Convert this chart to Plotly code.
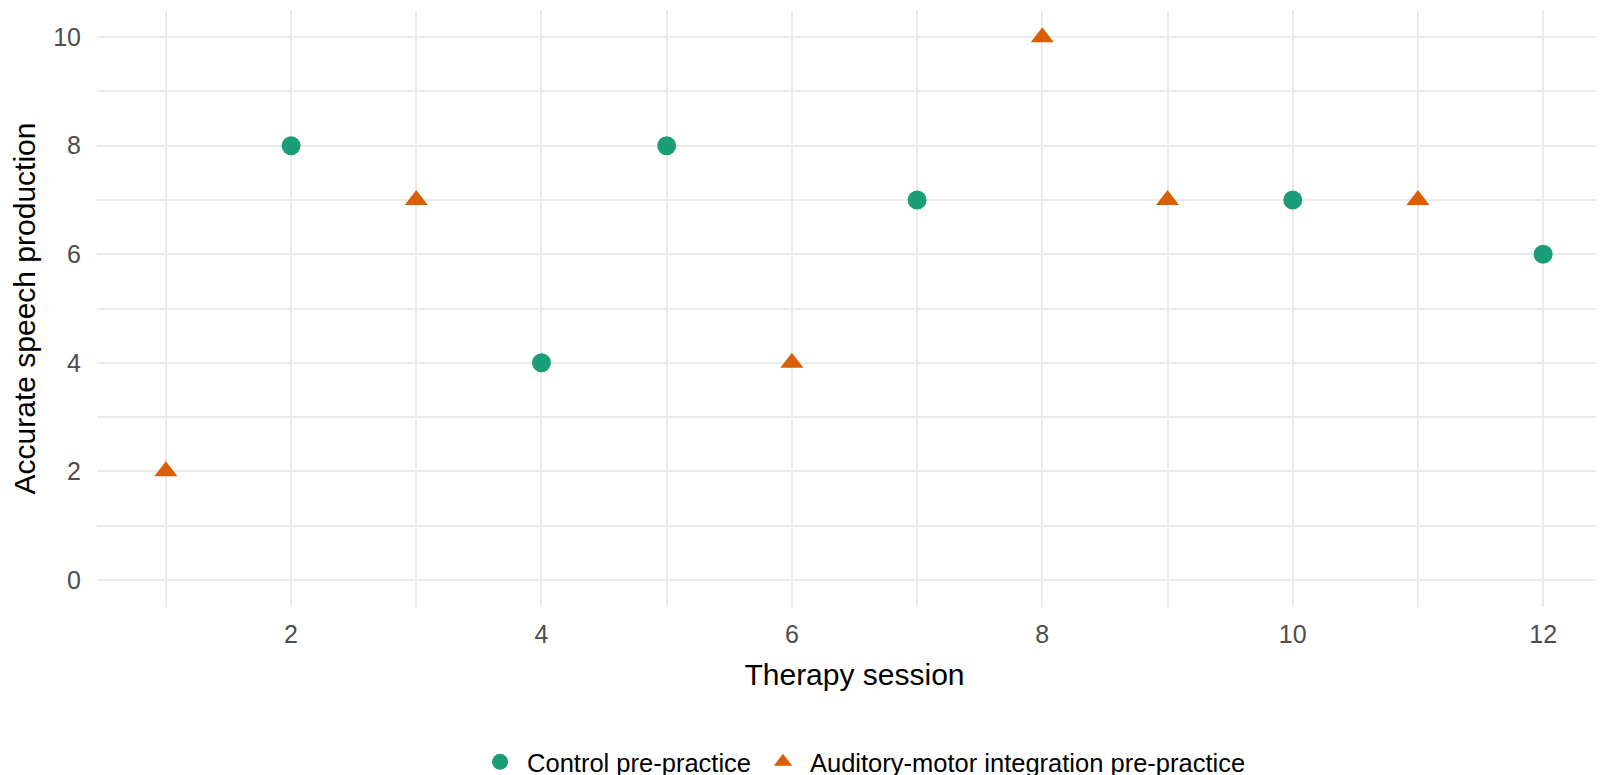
import plotly.graph_objects as go

# Data
control_session = [2, 4, 5, 7, 10, 12]
control_score = [8, 4, 8, 7, 7, 6]
ami_session = [1, 3, 6, 8, 9, 11]
ami_score = [2, 7, 4, 10, 7, 7]
series_names = ["Control pre-practice", "Auditory-motor integration pre-practice"]
x_ticks = [2, 4, 6, 8, 10, 12]
y_ticks = [0, 2, 4, 6, 8, 10]

GREEN = "#1B9E77"
ORANGE = "#D95F02"
FONT = "Liberation Sans, Arial, sans-serif"
GRID = "#EBEBEB"

fig = go.Figure()
fig.add_trace(go.Scatter(
    x=control_session, y=control_score, mode="markers", name=series_names[0],
    marker=dict(symbol="circle", size=19, color=GREEN, line=dict(width=0)),
))
fig.add_trace(go.Scatter(
    x=ami_session, y=ami_score, mode="markers", name=series_names[1],
    marker=dict(symbol="triangle-up", size=20, color=ORANGE, line=dict(width=0)),
))

fig.update_layout(
    width=1604, height=775,
    paper_bgcolor="white", plot_bgcolor="white",
    margin=dict(l=89, r=0, t=2, b=176, autoexpand=False),
    font=dict(family=FONT, color="black"),
    showlegend=True,
    legend=dict(
        orientation="h", x=0.505, xanchor="center", y=-0.26, yanchor="middle",
        font=dict(size=25.5, color="black"), itemwidth=44,
        bgcolor="rgba(0,0,0,0)",
    ),
    xaxis=dict(
        range=[0.45, 12.55], tickvals=x_ticks, ticktext=[str(v) for v in x_ticks],
        automargin=False,
        showgrid=True, gridcolor=GRID, gridwidth=2,
        minor=dict(dtick=1, tick0=0, showgrid=True, gridcolor=GRID, gridwidth=2),
        zeroline=False, showline=False, ticks="",
        tickfont=dict(size=25, color="#4D4D4D"), ticklabelstandoff=10,
        title=dict(text="Therapy session", font=dict(size=30, color="black"), standoff=16),
    ),
    yaxis=dict(
        range=[-0.5, 10.5], tickvals=y_ticks, ticktext=[str(v) for v in y_ticks],
        automargin=False,
        showgrid=True, gridcolor=GRID, gridwidth=2,
        minor=dict(dtick=1, tick0=0, showgrid=True, gridcolor=GRID, gridwidth=2),
        zeroline=False, showline=False, ticks="",
        tickfont=dict(size=25, color="#4D4D4D"), ticklabelstandoff=15,
        title=dict(text="Accurate speech production", font=dict(size=30, color="black"), standoff=14),
    ),
)

fig.write_html("out.html")
